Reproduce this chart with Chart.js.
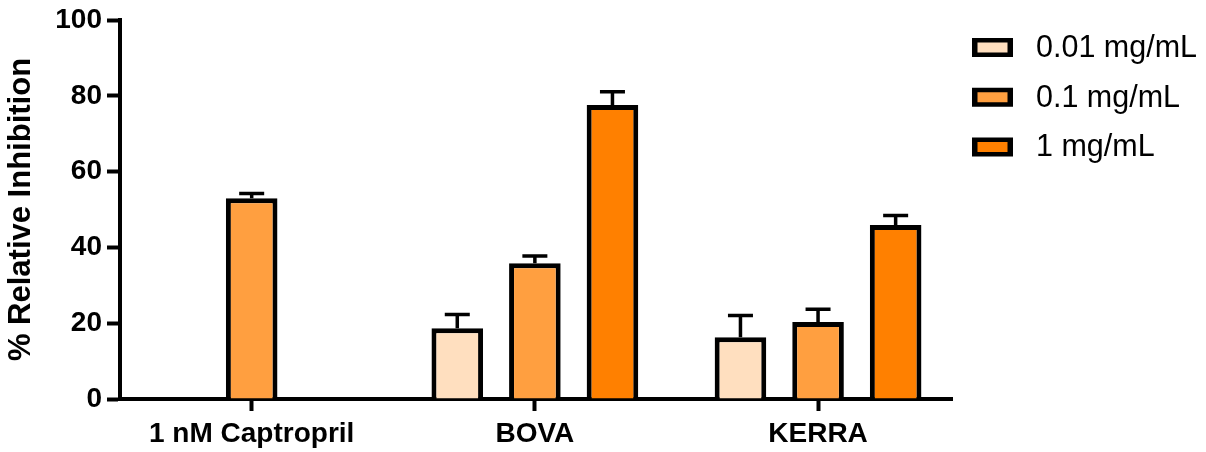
<!DOCTYPE html>
<html>
<head>
<meta charset="utf-8">
<script src="https://cdn.jsdelivr.net/npm/chart.js@4.4.1/dist/chart.umd.min.js"></script>
<style>
  html, body { margin: 0; padding: 0; background: #fff; }
  #wrap { width: 1206px; height: 452px; }
</style>
</head>
<body>
<div id="wrap"><canvas id="chart" width="1206" height="452"></canvas></div>
<script>
  // Categories and series (mean % inhibition, upper error = SD)
  const categories = ['1 nM Captropril', 'BOVA', 'KERRA'];
  const seriesLabels = ['0.01 mg/mL', '0.1 mg/mL', '1 mg/mL'];
  const seriesColors = ['#FFDFBF', '#FF9F40', '#FF8000'];

  const low = [null, 18.7, 16.3];
  const lowErr = [null, 3.6, 5.7];
  const mid = [53.0, 35.8, 20.3];
  const midErr = [1.2, 1.9, 3.4];
  const high = [null, 77.6, 45.9];
  const highErr = [null, 3.5, 2.5];

  const yTicks = [0, 20, 40, 60, 80, 100];

  const font = 'Liberation Sans, Arial, sans-serif';

  function points(values) {
    return values
      .map(function (v, i) { return v === null ? null : { x: i, y: v }; })
      .filter(function (p) { return p !== null; });
  }

  function makeDataset(i, values, errs) {
    return {
      label: seriesLabels[i],
      data: points(values),
      errors: errs,
      backgroundColor: seriesColors[i],
      borderColor: '#000',
      borderWidth: 5,
      borderSkipped: 'start',
      categoryPercentage: 0.822,
      barPercentage: 0.665
    };
  }

  // Error bars drawn above each bar (value -> value + err).
  const errorBars = {
    id: 'errorBars',
    afterDatasetsDraw: function (chart) {
      const ctx = chart.ctx;
      const yScale = chart.scales.y;
      ctx.save();
      ctx.strokeStyle = '#000';
      ctx.lineWidth = 3.5;
      chart.data.datasets.forEach(function (ds, di) {
        const meta = chart.getDatasetMeta(di);
        meta.data.forEach(function (bar, j) {
          const p = ds.data[j];
          const err = ds.errors[p.x];
          if (!err) return;
          const yTop = yScale.getPixelForValue(p.y + err);
          ctx.beginPath();
          ctx.moveTo(bar.x, bar.y);
          ctx.lineTo(bar.x, yTop);
          ctx.moveTo(bar.x - 12.5, yTop);
          ctx.lineTo(bar.x + 12.5, yTop);
          ctx.stroke();
        });
      });
      ctx.restore();
    }
  };

  // Legend at the top right, boxes with thick black outline.
  const sideLegend = {
    id: 'sideLegend',
    afterDraw: function (chart) {
      const ctx = chart.ctx;
      ctx.save();
      chart.data.datasets.forEach(function (ds, i) {
        const cy = 47.5 + i * 49.75;
        ctx.fillStyle = '#000';
        ctx.fillRect(972, cy - 9.5, 41, 19);
        ctx.fillStyle = ds.backgroundColor;
        ctx.fillRect(977.5, cy - 5, 30, 10);
        ctx.fillStyle = '#000';
        ctx.font = '30.5px ' + font;
        ctx.textBaseline = 'middle';
        ctx.textAlign = 'left';
        ctx.fillText(ds.label, 1036, cy + 1);
      });
      ctx.restore();
    }
  };

  new Chart(document.getElementById('chart'), {
    type: 'bar',
    data: {
      datasets: [
        makeDataset(0, low, lowErr),
        makeDataset(1, mid, midErr),
        makeDataset(2, high, highErr)
      ]
    },
    options: {
      responsive: false,
      animation: false,
      devicePixelRatio: 1,
      layout: { padding: { left: 0, right: 254, top: 20, bottom: 0 } },
      plugins: {
        legend: { display: false },
        tooltip: { enabled: false }
      },
      scales: {
        x: {
          type: 'linear',
          offset: false,
          min: -0.465,
          max: 2.473,
          afterFit: function (s) { s.height = 53; },
          afterBuildTicks: function (s) {
            s.ticks = categories.map(function (c, i) { return { value: i }; });
          },
          ticks: {
            autoSkip: false,
            maxRotation: 0,
            padding: 6,
            color: '#000',
            font: { family: font, size: 28, weight: 'bold' },
            callback: function (v) { return categories[v]; }
          },
          grid: {
            offset: false,
            drawOnChartArea: false,
            drawTicks: true,
            tickLength: 12,
            tickWidth: 4,
            tickColor: '#000'
          },
          border: { display: true, color: '#000', width: 4 }
        },
        y: {
          min: 0,
          max: 100,
          afterFit: function (s) { s.width = 120; },
          afterBuildTicks: function (s) {
            s.ticks = yTicks.map(function (v) { return { value: v }; });
          },
          ticks: {
            padding: 5,
            color: '#000',
            font: { family: font, size: 28, weight: 'bold', lineHeight: 1 }
          },
          title: {
            display: true,
            text: '% Relative Inhibition',
            color: '#000',
            font: { family: font, size: 31, weight: 'bold' },
            padding: { top: 3, bottom: 0 }
          },
          grid: {
            drawOnChartArea: false,
            drawTicks: true,
            tickLength: 13,
            tickWidth: 4,
            tickColor: '#000'
          },
          border: { display: true, color: '#000', width: 4 }
        }
      }
    },
    plugins: [errorBars, sideLegend]
  });
</script>
</body>
</html>
